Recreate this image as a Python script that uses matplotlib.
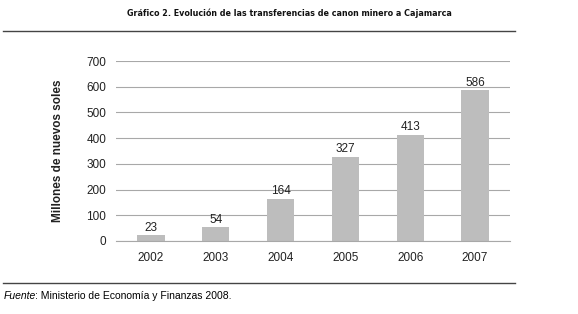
import matplotlib
matplotlib.use("Agg")
import matplotlib.pyplot as plt
from matplotlib import font_manager
from matplotlib.font_manager import FontProperties
from matplotlib.lines import Line2D

years = ['2002', '2003', '2004', '2005', '2006', '2007']
transfers = [23, 54, 164, 327, 413, 586]
y_ticks = [0, 100, 200, 300, 400, 500, 600, 700]

title = 'Gráfico 2. Evolución de las transferencias de canon minero a Cajamarca'
y_label = 'Millones de nuevos soles'

plt.rcParams['font.family'] = ['Liberation Sans', 'DejaVu Sans']


def narrow_bold_font():
    # look for a condensed bold face for the title
    best = None
    for f in font_manager.fontManager.ttflist:
        stretch = f.stretch if isinstance(f.stretch, str) else str(f.stretch)
        is_narrow = ('narrow' in f.name.lower() or 'condensed' in f.name.lower()
                     or 'condensed' in stretch or 'Condensed' in f.fname or 'Narrow' in f.fname)
        weight = f.weight if isinstance(f.weight, int) else (700 if 'bold' in str(f.weight) else 400)
        if is_narrow and weight >= 600 and 'Oblique' not in f.fname and 'Italic' not in f.fname:
            if best is None or 'Liberation' in f.fname:
                best = f.fname
    if best:
        return FontProperties(fname=best)
    return FontProperties(family='Liberation Sans', weight='bold')


fig = plt.figure(figsize=(5.78, 3.14), dpi=100)
ax = fig.add_axes([0.2007, 0.2325, 0.6817, 0.5732])

x = range(len(years))
ax.bar(x, transfers, width=0.42, color='#bdbdbd', zorder=3)
for xi, v in zip(x, transfers):
    ax.text(xi, v + 6, str(v), ha='center', va='bottom', fontsize=8.5, color='#222222')

ax.set_xlim(-0.54, 5.54)
ax.set_ylim(0, 700)
ax.set_yticks(y_ticks)
ax.set_xticks(list(x))
ax.set_xticklabels(years)
ax.yaxis.grid(True, color='#a8a8a8', linewidth=0.8, zorder=0)
ax.axhline(0, color='#a8a8a8', linewidth=0.8, clip_on=False, zorder=4)
ax.tick_params(axis='both', length=0, labelsize=8.5, colors='#222222')
ax.tick_params(axis='y', pad=7)
ax.tick_params(axis='x', pad=8)
for s in ax.spines.values():
    s.set_visible(False)
ax.set_ylabel(y_label, fontsize=8.5, fontweight='bold', labelpad=16, color='#222222')

# title and rules
tfp = narrow_bold_font()
tfp.set_size(6.4)
fig.text(0.5, 1 - 13 / 314, title, ha='center', va='center', fontproperties=tfp, color='#111111')

fig.add_artist(Line2D([3 / 578, 515 / 578], [1 - 31 / 314] * 2, color='#444444', linewidth=1.0))
fig.add_artist(Line2D([3 / 578, 515 / 578], [1 - 283 / 314] * 2, color='#444444', linewidth=1.0))

f1 = fig.text(4 / 578, 1 - 296 / 314, 'Fuente', ha='left', va='center', fontsize=7.5, style='italic')
fig.canvas.draw()
r = fig.canvas.get_renderer()
x_end = f1.get_window_extent(r).x1
fig.text((x_end - 1.0) / 578, 1 - 296 / 314, ': Ministerio de Economía y Finanzas 2008.',
         ha='left', va='center', fontsize=7.5)

fig.savefig('out.png', dpi=100)
